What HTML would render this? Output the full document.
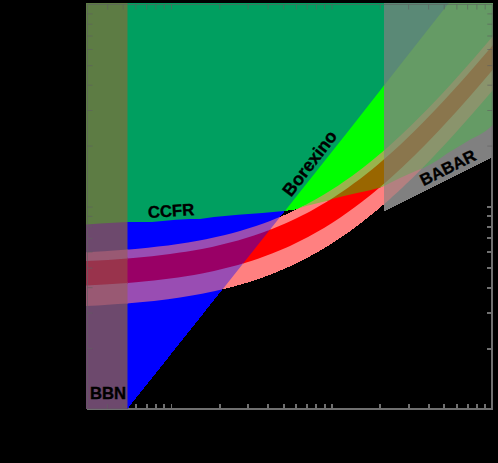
<!DOCTYPE html><html><head><meta charset="utf-8"><style>html,body{margin:0;padding:0;background:#000;overflow:hidden}svg{display:block}text{font-family:"Liberation Sans",sans-serif;font-weight:bold;fill:#000;stroke:#000;stroke-width:0.35px}</style></head><body>
<svg width="498" height="463" viewBox="0 0 498 463">
<rect width="498" height="463" fill="#000"/>
<g shape-rendering="crispEdges">
<path d="M384.0 3.0 L127.5 3.0 L127.5 222.0 L152.0 222.0 L176.0 219.8 L190.0 218.9 L200.0 219.0 L214.0 217.0 L238.2 214.8 L262.3 212.9 L284.0 211.0 L284.9 210.9 L349.2 130.0 L384.0 85.6Z" fill="rgb(0,159,96)"/>
<path d="M86.0 3.0 L86.0 224.4 L87.2 224.4 L100.0 223.6 L127.5 222.0 L127.5 3.0Z" fill="rgb(93,124,68)"/>
<path d="M388.0 146.9 L390.0 145.1 L392.0 143.3 L394.0 141.5 L396.0 139.7 L398.0 137.9 L400.0 136.0 L402.0 134.1 L404.0 132.2 L406.0 130.3 L408.0 128.4 L410.0 126.5 L412.0 124.6 L414.0 122.6 L416.0 120.6 L418.0 118.6 L420.0 116.6 L422.0 114.6 L424.0 112.6 L426.0 110.6 L428.0 108.5 L430.0 106.4 L432.0 104.4 L434.0 102.3 L436.0 100.2 L438.0 98.0 L440.0 95.9 L442.0 93.8 L444.0 91.6 L446.0 89.5 L448.0 87.3 L450.0 85.1 L452.0 82.9 L454.0 80.7 L456.0 78.5 L458.0 76.3 L460.0 74.1 L462.0 71.8 L464.0 69.6 L466.0 67.3 L468.0 65.1 L470.0 62.8 L472.0 60.5 L474.0 58.2 L476.0 55.9 L478.0 53.6 L480.0 51.3 L482.0 49.0 L484.0 46.7 L486.0 44.3 L488.0 42.0 L490.0 39.7 L492.0 37.3 L493.0 36.1 L493.0 3.0 L448.8 3.0 L384.0 85.6 L384.0 150.4 L386.0 148.6Z M488.0 95.8 L486.0 98.1 L484.0 100.5 L482.0 102.8 L480.0 105.1 L478.0 107.4 L476.0 109.7 L474.0 112.0 L472.0 114.3 L470.0 116.6 L468.0 118.9 L466.0 121.1 L464.0 123.4 L462.0 125.6 L460.0 127.9 L458.0 130.1 L456.0 132.3 L454.0 134.5 L452.0 136.7 L450.0 138.9 L448.0 141.1 L446.0 143.3 L444.0 145.4 L442.0 147.6 L440.0 149.7 L438.0 151.8 L436.0 154.0 L434.0 156.1 L432.0 158.2 L430.0 160.2 L428.0 162.3 L426.0 164.4 L424.0 166.4 L422.0 168.4 L421.6 168.8 L423.0 168.3 L431.1 164.0 L439.1 159.2 L447.1 153.6 L455.2 148.7 L463.2 143.9 L471.2 139.1 L479.3 135.1 L485.7 131.0 L492.4 125.4 L493.0 124.9 L493.0 89.9 L492.0 91.1 L490.0 93.5Z" fill="rgb(101,155,101)"/>
<path d="M128.0 249.6 L130.0 249.4 L132.0 249.2 L134.0 249.1 L136.0 248.9 L138.0 248.7 L140.0 248.5 L142.0 248.3 L144.0 248.1 L146.0 247.9 L148.0 247.7 L150.0 247.5 L152.0 247.3 L154.0 247.1 L156.0 246.9 L158.0 246.6 L160.0 246.4 L162.0 246.2 L164.0 245.9 L166.0 245.7 L168.0 245.4 L170.0 245.2 L172.0 244.9 L174.0 244.6 L176.0 244.3 L178.0 244.0 L180.0 243.7 L182.0 243.4 L184.0 243.1 L186.0 242.8 L188.0 242.5 L190.0 242.1 L192.0 241.8 L194.0 241.5 L196.0 241.1 L198.0 240.7 L200.0 240.4 L202.0 240.0 L204.0 239.6 L206.0 239.2 L208.0 238.8 L210.0 238.4 L212.0 238.0 L214.0 237.5 L216.0 237.1 L218.0 236.6 L220.0 236.2 L222.0 235.7 L224.0 235.2 L226.0 234.7 L228.0 234.2 L230.0 233.7 L232.0 233.2 L234.0 232.6 L236.0 232.1 L238.0 231.5 L240.0 231.0 L242.0 230.4 L244.0 229.8 L246.0 229.2 L248.0 228.6 L250.0 227.9 L252.0 227.3 L254.0 226.6 L256.0 226.0 L258.0 225.3 L260.0 224.6 L262.0 223.9 L264.0 223.2 L266.0 222.4 L268.0 221.7 L270.0 220.9 L272.0 220.2 L274.0 219.4 L276.0 218.6 L278.0 217.7 L280.0 216.9 L280.1 216.9 L284.9 210.9 L284.0 211.0 L262.3 212.9 L238.2 214.8 L214.0 217.0 L200.0 219.0 L190.0 218.9 L176.0 219.8 L152.0 222.0 L127.5 222.0 L127.5 249.6Z M216.0 290.9 L214.0 291.3 L212.0 291.8 L210.0 292.2 L208.0 292.6 L206.0 293.0 L204.0 293.4 L202.0 293.8 L200.0 294.2 L198.0 294.5 L196.0 294.9 L194.0 295.3 L192.0 295.6 L190.0 295.9 L188.0 296.3 L186.0 296.6 L184.0 296.9 L182.0 297.2 L180.0 297.5 L178.0 297.8 L176.0 298.1 L174.0 298.4 L172.0 298.7 L170.0 299.0 L168.0 299.2 L166.0 299.5 L164.0 299.7 L162.0 300.0 L160.0 300.2 L158.0 300.4 L156.0 300.7 L154.0 300.9 L152.0 301.1 L150.0 301.3 L148.0 301.5 L146.0 301.7 L144.0 301.9 L142.0 302.1 L140.0 302.3 L138.0 302.5 L136.0 302.7 L134.0 302.9 L132.0 303.0 L130.0 303.2 L128.0 303.4 L127.5 303.4 L127.5 409.4 L127.9 409.4 L127.9 408.3 L222.5 289.4 L222.0 289.5 L220.0 290.0 L218.0 290.4Z" fill="rgb(0,0,255)"/>
<path d="M92.0 251.9 L94.0 251.8 L96.0 251.7 L98.0 251.6 L100.0 251.5 L102.0 251.4 L104.0 251.2 L106.0 251.1 L108.0 251.0 L110.0 250.9 L112.0 250.7 L114.0 250.6 L116.0 250.5 L118.0 250.3 L120.0 250.2 L122.0 250.0 L124.0 249.9 L126.0 249.7 L127.5 249.6 L127.5 222.0 L100.0 223.6 L87.2 224.4 L86.0 224.4 L86.0 252.2 L88.0 252.1 L90.0 252.0Z M126.0 303.5 L124.0 303.7 L122.0 303.8 L120.0 304.0 L118.0 304.1 L116.0 304.3 L114.0 304.4 L112.0 304.5 L110.0 304.7 L108.0 304.8 L106.0 304.9 L104.0 305.0 L102.0 305.2 L100.0 305.3 L98.0 305.4 L96.0 305.5 L94.0 305.6 L92.0 305.7 L90.0 305.8 L88.0 305.9 L86.0 306.0 L86.0 409.4 L127.5 409.4 L127.5 303.4Z" fill="rgb(109,73,109)"/>
<path d="M304.0 205.7 L306.0 204.6 L308.0 203.6 L310.0 202.5 L312.0 201.4 L314.0 200.3 L316.0 199.2 L318.0 198.0 L320.0 196.9 L322.0 195.7 L324.0 194.5 L326.0 193.3 L328.0 192.1 L330.0 190.8 L332.0 189.6 L334.0 188.3 L336.0 187.0 L338.0 185.7 L340.0 184.3 L342.0 183.0 L344.0 181.6 L346.0 180.2 L348.0 178.8 L350.0 177.4 L352.0 175.9 L354.0 174.4 L356.0 173.0 L358.0 171.5 L360.0 170.0 L362.0 168.4 L364.0 166.9 L366.0 165.3 L368.0 163.7 L370.0 162.1 L372.0 160.5 L374.0 158.8 L376.0 157.2 L378.0 155.5 L380.0 153.8 L382.0 152.1 L384.0 150.4 L384.0 85.6 L349.2 130.0 L284.9 210.9 L294.7 209.5 L298.9 208.3 L300.0 207.7 L302.0 206.7Z" fill="rgb(0,255,0)"/>
<path d="M274.0 219.4 L272.0 220.2 L270.0 220.9 L268.0 221.7 L266.0 222.4 L264.0 223.2 L262.0 223.9 L260.0 224.6 L258.0 225.3 L256.0 226.0 L254.0 226.6 L252.0 227.3 L250.0 227.9 L248.0 228.6 L246.0 229.2 L244.0 229.8 L242.0 230.4 L240.0 231.0 L238.0 231.5 L236.0 232.1 L234.0 232.6 L232.0 233.2 L230.0 233.7 L228.0 234.2 L226.0 234.7 L224.0 235.2 L222.0 235.7 L220.0 236.2 L218.0 236.6 L216.0 237.1 L214.0 237.5 L212.0 238.0 L210.0 238.4 L208.0 238.8 L206.0 239.2 L204.0 239.6 L202.0 240.0 L200.0 240.4 L198.0 240.7 L196.0 241.1 L194.0 241.5 L192.0 241.8 L190.0 242.1 L188.0 242.5 L186.0 242.8 L184.0 243.1 L182.0 243.4 L180.0 243.7 L178.0 244.0 L176.0 244.3 L174.0 244.6 L172.0 244.9 L170.0 245.2 L168.0 245.4 L166.0 245.7 L164.0 245.9 L162.0 246.2 L160.0 246.4 L158.0 246.6 L156.0 246.9 L154.0 247.1 L152.0 247.3 L150.0 247.5 L148.0 247.7 L146.0 247.9 L144.0 248.1 L142.0 248.3 L140.0 248.5 L138.0 248.7 L136.0 248.9 L134.0 249.1 L132.0 249.2 L130.0 249.4 L128.0 249.6 L127.5 249.6 L127.5 258.5 L128.0 258.5 L130.0 258.3 L132.0 258.1 L134.0 258.0 L136.0 257.8 L138.0 257.6 L140.0 257.4 L142.0 257.2 L144.0 257.0 L146.0 256.8 L148.0 256.6 L150.0 256.4 L152.0 256.2 L154.0 256.0 L156.0 255.8 L158.0 255.5 L160.0 255.3 L162.0 255.1 L164.0 254.8 L166.0 254.6 L168.0 254.3 L170.0 254.1 L172.0 253.8 L174.0 253.5 L176.0 253.2 L178.0 252.9 L180.0 252.6 L182.0 252.3 L184.0 252.0 L186.0 251.7 L188.0 251.4 L190.0 251.0 L192.0 250.7 L194.0 250.4 L196.0 250.0 L198.0 249.6 L200.0 249.3 L202.0 248.9 L204.0 248.5 L206.0 248.1 L208.0 247.7 L210.0 247.3 L212.0 246.9 L214.0 246.4 L216.0 246.0 L218.0 245.5 L220.0 245.1 L222.0 244.6 L224.0 244.1 L226.0 243.6 L228.0 243.1 L230.0 242.6 L232.0 242.1 L234.0 241.5 L236.0 241.0 L238.0 240.4 L240.0 239.9 L242.0 239.3 L244.0 238.7 L246.0 238.1 L248.0 237.5 L250.0 236.8 L252.0 236.2 L254.0 235.5 L256.0 234.9 L258.0 234.2 L260.0 233.5 L262.0 232.8 L264.0 232.1 L266.0 231.3 L268.0 230.6 L269.7 229.9 L280.1 216.9 L280.0 216.9 L278.0 217.7 L276.0 218.6Z M128.0 303.4 L130.0 303.2 L132.0 303.0 L134.0 302.9 L136.0 302.7 L138.0 302.5 L140.0 302.3 L142.0 302.1 L144.0 301.9 L146.0 301.7 L148.0 301.5 L150.0 301.3 L152.0 301.1 L154.0 300.9 L156.0 300.7 L158.0 300.4 L160.0 300.2 L162.0 300.0 L164.0 299.7 L166.0 299.5 L168.0 299.2 L170.0 299.0 L172.0 298.7 L174.0 298.4 L176.0 298.1 L178.0 297.8 L180.0 297.5 L182.0 297.2 L184.0 296.9 L186.0 296.6 L188.0 296.3 L190.0 295.9 L192.0 295.6 L194.0 295.3 L196.0 294.9 L198.0 294.5 L200.0 294.2 L202.0 293.8 L204.0 293.4 L206.0 293.0 L208.0 292.6 L210.0 292.2 L212.0 291.8 L214.0 291.3 L216.0 290.9 L218.0 290.4 L220.0 290.0 L222.0 289.5 L222.5 289.4 L243.1 263.5 L242.0 263.8 L240.0 264.4 L238.0 264.9 L236.0 265.5 L234.0 266.0 L232.0 266.6 L230.0 267.1 L228.0 267.6 L226.0 268.1 L224.0 268.6 L222.0 269.1 L220.0 269.6 L218.0 270.0 L216.0 270.5 L214.0 270.9 L212.0 271.4 L210.0 271.8 L208.0 272.2 L206.0 272.6 L204.0 273.0 L202.0 273.4 L200.0 273.8 L198.0 274.1 L196.0 274.5 L194.0 274.9 L192.0 275.2 L190.0 275.5 L188.0 275.9 L186.0 276.2 L184.0 276.5 L182.0 276.8 L180.0 277.1 L178.0 277.4 L176.0 277.7 L174.0 278.0 L172.0 278.3 L170.0 278.6 L168.0 278.8 L166.0 279.1 L164.0 279.3 L162.0 279.6 L160.0 279.8 L158.0 280.0 L156.0 280.3 L154.0 280.5 L152.0 280.7 L150.0 280.9 L148.0 281.1 L146.0 281.3 L144.0 281.5 L142.0 281.7 L140.0 281.9 L138.0 282.1 L136.0 282.3 L134.0 282.5 L132.0 282.6 L130.0 282.8 L128.0 283.0 L127.5 283.0 L127.5 303.4Z" fill="rgb(153,77,179)"/>
<path d="M294.0 210.6 L292.0 211.6 L290.0 212.5 L288.0 213.4 L286.0 214.3 L284.0 215.2 L282.0 216.1 L280.1 216.9 L269.7 229.9 L270.0 229.8 L272.0 229.1 L274.0 228.3 L276.0 227.5 L278.0 226.6 L280.0 225.8 L282.0 225.0 L284.0 224.1 L286.0 223.2 L288.0 222.3 L290.0 221.4 L292.0 220.5 L294.0 219.5 L296.0 218.6 L298.0 217.6 L300.0 216.6 L302.0 215.6 L304.0 214.6 L306.0 213.5 L308.0 212.5 L310.0 211.4 L312.0 210.3 L314.0 209.2 L316.0 208.1 L318.0 206.9 L320.0 205.8 L322.0 204.6 L324.0 203.4 L326.0 202.2 L328.0 201.0 L329.7 199.9 L324.6 201.6 L308.0 205.6 L298.9 208.3 L298.0 208.7 L296.0 209.7Z M230.0 287.5 L232.0 287.0 L234.0 286.4 L236.0 285.9 L238.0 285.3 L240.0 284.8 L242.0 284.2 L244.0 283.6 L246.0 283.0 L248.0 282.4 L250.0 281.7 L252.0 281.1 L254.0 280.4 L256.0 279.8 L258.0 279.1 L260.0 278.4 L262.0 277.7 L264.0 277.0 L266.0 276.2 L268.0 275.5 L270.0 274.7 L272.0 274.0 L274.0 273.2 L276.0 272.4 L278.0 271.5 L280.0 270.7 L282.0 269.9 L284.0 269.0 L286.0 268.1 L288.0 267.2 L290.0 266.3 L292.0 265.4 L294.0 264.4 L296.0 263.5 L298.0 262.5 L300.0 261.5 L302.0 260.5 L304.0 259.5 L306.0 258.4 L308.0 257.4 L310.0 256.3 L312.0 255.2 L314.0 254.1 L316.0 253.0 L318.0 251.8 L320.0 250.7 L322.0 249.5 L324.0 248.3 L326.0 247.1 L328.0 245.9 L330.0 244.6 L332.0 243.4 L334.0 242.1 L336.0 240.8 L338.0 239.5 L340.0 238.1 L342.0 236.8 L344.0 235.4 L346.0 234.0 L348.0 232.6 L350.0 231.2 L352.0 229.7 L354.0 228.2 L356.0 226.8 L358.0 225.3 L360.0 223.8 L362.0 222.2 L364.0 220.7 L366.0 219.1 L368.0 217.5 L370.0 215.9 L372.0 214.3 L374.0 212.6 L376.0 211.0 L378.0 209.3 L380.0 207.6 L382.0 205.9 L384.0 204.2 L384.0 186.0 L379.6 187.5 L378.0 188.9 L376.0 190.6 L374.0 192.2 L372.0 193.9 L370.0 195.5 L368.0 197.1 L366.0 198.7 L364.0 200.3 L362.0 201.8 L360.0 203.4 L358.0 204.9 L356.0 206.4 L354.0 207.8 L352.0 209.3 L350.0 210.8 L348.0 212.2 L346.0 213.6 L344.0 215.0 L342.0 216.4 L340.0 217.7 L338.0 219.1 L336.0 220.4 L334.0 221.7 L332.0 223.0 L330.0 224.2 L328.0 225.5 L326.0 226.7 L324.0 227.9 L322.0 229.1 L320.0 230.3 L318.0 231.4 L316.0 232.6 L314.0 233.7 L312.0 234.8 L310.0 235.9 L308.0 237.0 L306.0 238.0 L304.0 239.1 L302.0 240.1 L300.0 241.1 L298.0 242.1 L296.0 243.1 L294.0 244.0 L292.0 245.0 L290.0 245.9 L288.0 246.8 L286.0 247.7 L284.0 248.6 L282.0 249.5 L280.0 250.3 L278.0 251.1 L276.0 252.0 L274.0 252.8 L272.0 253.6 L270.0 254.3 L268.0 255.1 L266.0 255.8 L264.0 256.6 L262.0 257.3 L260.0 258.0 L258.0 258.7 L256.0 259.4 L254.0 260.0 L252.0 260.7 L250.0 261.3 L248.0 262.0 L246.0 262.6 L244.0 263.2 L243.1 263.5 L222.5 289.4 L224.0 289.0 L226.0 288.5 L228.0 288.0Z" fill="rgb(255,128,128)"/>
<path d="M128.0 283.0 L130.0 282.8 L132.0 282.6 L134.0 282.5 L136.0 282.3 L138.0 282.1 L140.0 281.9 L142.0 281.7 L144.0 281.5 L146.0 281.3 L148.0 281.1 L150.0 280.9 L152.0 280.7 L154.0 280.5 L156.0 280.3 L158.0 280.0 L160.0 279.8 L162.0 279.6 L164.0 279.3 L166.0 279.1 L168.0 278.8 L170.0 278.6 L172.0 278.3 L174.0 278.0 L176.0 277.7 L178.0 277.4 L180.0 277.1 L182.0 276.8 L184.0 276.5 L186.0 276.2 L188.0 275.9 L190.0 275.5 L192.0 275.2 L194.0 274.9 L196.0 274.5 L198.0 274.1 L200.0 273.8 L202.0 273.4 L204.0 273.0 L206.0 272.6 L208.0 272.2 L210.0 271.8 L212.0 271.4 L214.0 270.9 L216.0 270.5 L218.0 270.0 L220.0 269.6 L222.0 269.1 L224.0 268.6 L226.0 268.1 L228.0 267.6 L230.0 267.1 L232.0 266.6 L234.0 266.0 L236.0 265.5 L238.0 264.9 L240.0 264.4 L242.0 263.8 L243.1 263.5 L269.7 229.9 L268.0 230.6 L266.0 231.3 L264.0 232.1 L262.0 232.8 L260.0 233.5 L258.0 234.2 L256.0 234.9 L254.0 235.5 L252.0 236.2 L250.0 236.8 L248.0 237.5 L246.0 238.1 L244.0 238.7 L242.0 239.3 L240.0 239.9 L238.0 240.4 L236.0 241.0 L234.0 241.5 L232.0 242.1 L230.0 242.6 L228.0 243.1 L226.0 243.6 L224.0 244.1 L222.0 244.6 L220.0 245.1 L218.0 245.5 L216.0 246.0 L214.0 246.4 L212.0 246.9 L210.0 247.3 L208.0 247.7 L206.0 248.1 L204.0 248.5 L202.0 248.9 L200.0 249.3 L198.0 249.6 L196.0 250.0 L194.0 250.4 L192.0 250.7 L190.0 251.0 L188.0 251.4 L186.0 251.7 L184.0 252.0 L182.0 252.3 L180.0 252.6 L178.0 252.9 L176.0 253.2 L174.0 253.5 L172.0 253.8 L170.0 254.1 L168.0 254.3 L166.0 254.6 L164.0 254.8 L162.0 255.1 L160.0 255.3 L158.0 255.5 L156.0 255.8 L154.0 256.0 L152.0 256.2 L150.0 256.4 L148.0 256.6 L146.0 256.8 L144.0 257.0 L142.0 257.2 L140.0 257.4 L138.0 257.6 L136.0 257.8 L134.0 258.0 L132.0 258.1 L130.0 258.3 L128.0 258.5 L127.5 258.5 L127.5 283.0Z" fill="rgb(153,0,102)"/>
<path d="M484.0 46.7 L482.0 49.0 L480.0 51.3 L478.0 53.6 L476.0 55.9 L474.0 58.2 L472.0 60.5 L470.0 62.8 L468.0 65.1 L466.0 67.3 L464.0 69.6 L462.0 71.8 L460.0 74.1 L458.0 76.3 L456.0 78.5 L454.0 80.7 L452.0 82.9 L450.0 85.1 L448.0 87.3 L446.0 89.5 L444.0 91.6 L442.0 93.8 L440.0 95.9 L438.0 98.0 L436.0 100.2 L434.0 102.3 L432.0 104.4 L430.0 106.4 L428.0 108.5 L426.0 110.6 L424.0 112.6 L422.0 114.6 L420.0 116.6 L418.0 118.6 L416.0 120.6 L414.0 122.6 L412.0 124.6 L410.0 126.5 L408.0 128.4 L406.0 130.3 L404.0 132.2 L402.0 134.1 L400.0 136.0 L398.0 137.9 L396.0 139.7 L394.0 141.5 L392.0 143.3 L390.0 145.1 L388.0 146.9 L386.0 148.6 L384.0 150.4 L384.0 159.3 L386.0 157.5 L388.0 155.8 L390.0 154.0 L392.0 152.2 L394.0 150.4 L396.0 148.6 L398.0 146.8 L400.0 144.9 L402.0 143.0 L404.0 141.1 L406.0 139.2 L408.0 137.3 L410.0 135.4 L412.0 133.5 L414.0 131.5 L416.0 129.5 L418.0 127.5 L420.0 125.5 L422.0 123.5 L424.0 121.5 L426.0 119.5 L428.0 117.4 L430.0 115.3 L432.0 113.3 L434.0 111.2 L436.0 109.1 L438.0 106.9 L440.0 104.8 L442.0 102.7 L444.0 100.5 L446.0 98.4 L448.0 96.2 L450.0 94.0 L452.0 91.8 L454.0 89.6 L456.0 87.4 L458.0 85.2 L460.0 83.0 L462.0 80.7 L464.0 78.5 L466.0 76.2 L468.0 74.0 L470.0 71.7 L472.0 69.4 L474.0 67.1 L476.0 64.8 L478.0 62.5 L480.0 60.2 L482.0 57.9 L484.0 55.6 L486.0 53.2 L488.0 50.9 L490.0 48.6 L492.0 46.2 L493.0 45.0 L493.0 36.1 L492.0 37.3 L490.0 39.7 L488.0 42.0 L486.0 44.3Z M426.0 164.4 L428.0 162.3 L430.0 160.2 L432.0 158.2 L434.0 156.1 L436.0 154.0 L438.0 151.8 L440.0 149.7 L442.0 147.6 L444.0 145.4 L446.0 143.3 L448.0 141.1 L450.0 138.9 L452.0 136.7 L454.0 134.5 L456.0 132.3 L458.0 130.1 L460.0 127.9 L462.0 125.6 L464.0 123.4 L466.0 121.1 L468.0 118.9 L470.0 116.6 L472.0 114.3 L474.0 112.0 L476.0 109.7 L478.0 107.4 L480.0 105.1 L482.0 102.8 L484.0 100.5 L486.0 98.1 L488.0 95.8 L490.0 93.5 L492.0 91.1 L493.0 89.9 L493.0 69.5 L492.0 70.7 L490.0 73.1 L488.0 75.4 L486.0 77.7 L484.0 80.1 L482.0 82.4 L480.0 84.7 L478.0 87.0 L476.0 89.3 L474.0 91.6 L472.0 93.9 L470.0 96.2 L468.0 98.5 L466.0 100.7 L464.0 103.0 L462.0 105.2 L460.0 107.5 L458.0 109.7 L456.0 111.9 L454.0 114.1 L452.0 116.3 L450.0 118.5 L448.0 120.7 L446.0 122.9 L444.0 125.0 L442.0 127.2 L440.0 129.3 L438.0 131.4 L436.0 133.6 L434.0 135.7 L432.0 137.8 L430.0 139.8 L428.0 141.9 L426.0 144.0 L424.0 146.0 L422.0 148.0 L420.0 150.0 L418.0 152.0 L416.0 154.0 L414.0 156.0 L412.0 158.0 L410.0 159.9 L408.0 161.8 L406.0 163.7 L404.0 165.6 L402.0 167.5 L400.0 169.4 L398.0 171.3 L396.0 173.1 L394.0 174.9 L392.0 176.7 L390.0 178.5 L388.0 180.3 L386.0 182.0 L384.0 183.8 L384.0 186.0 L400.0 178.1 L416.8 170.5 L421.6 168.8 L422.0 168.4 L424.0 166.4Z" fill="rgb(138,148,108)"/>
<path d="M384.0 3.0 L384.0 85.6 L448.8 3.0Z" fill="rgb(90,137,118)"/>
<path d="M388.0 180.3 L390.0 178.5 L392.0 176.7 L394.0 174.9 L396.0 173.1 L398.0 171.3 L400.0 169.4 L402.0 167.5 L404.0 165.6 L406.0 163.7 L408.0 161.8 L410.0 159.9 L412.0 158.0 L414.0 156.0 L416.0 154.0 L418.0 152.0 L420.0 150.0 L422.0 148.0 L424.0 146.0 L426.0 144.0 L428.0 141.9 L430.0 139.8 L432.0 137.8 L434.0 135.7 L436.0 133.6 L438.0 131.4 L440.0 129.3 L442.0 127.2 L444.0 125.0 L446.0 122.9 L448.0 120.7 L450.0 118.5 L452.0 116.3 L454.0 114.1 L456.0 111.9 L458.0 109.7 L460.0 107.5 L462.0 105.2 L464.0 103.0 L466.0 100.7 L468.0 98.5 L470.0 96.2 L472.0 93.9 L474.0 91.6 L476.0 89.3 L478.0 87.0 L480.0 84.7 L482.0 82.4 L484.0 80.1 L486.0 77.7 L488.0 75.4 L490.0 73.1 L492.0 70.7 L493.0 69.5 L493.0 45.0 L492.0 46.2 L490.0 48.6 L488.0 50.9 L486.0 53.2 L484.0 55.6 L482.0 57.9 L480.0 60.2 L478.0 62.5 L476.0 64.8 L474.0 67.1 L472.0 69.4 L470.0 71.7 L468.0 74.0 L466.0 76.2 L464.0 78.5 L462.0 80.7 L460.0 83.0 L458.0 85.2 L456.0 87.4 L454.0 89.6 L452.0 91.8 L450.0 94.0 L448.0 96.2 L446.0 98.4 L444.0 100.5 L442.0 102.7 L440.0 104.8 L438.0 106.9 L436.0 109.1 L434.0 111.2 L432.0 113.3 L430.0 115.3 L428.0 117.4 L426.0 119.5 L424.0 121.5 L422.0 123.5 L420.0 125.5 L418.0 127.5 L416.0 129.5 L414.0 131.5 L412.0 133.5 L410.0 135.4 L408.0 137.3 L406.0 139.2 L404.0 141.1 L402.0 143.0 L400.0 144.9 L398.0 146.8 L396.0 148.6 L394.0 150.4 L392.0 152.2 L390.0 154.0 L388.0 155.8 L386.0 157.5 L384.0 159.3 L384.0 183.8 L386.0 182.0Z" fill="rgb(138,118,77)"/>
<path d="M416.0 174.4 L414.0 176.4 L412.0 178.4 L410.0 180.3 L408.0 182.2 L406.0 184.1 L404.0 186.0 L402.0 187.9 L400.0 189.8 L398.0 191.7 L396.0 193.5 L394.0 195.3 L392.0 197.1 L390.0 198.9 L388.0 200.7 L386.0 202.4 L384.0 204.2 L384.0 211.5 L493.0 157.2 L493.0 124.9 L492.4 125.4 L485.7 131.0 L479.3 135.1 L471.2 139.1 L463.2 143.9 L455.2 148.7 L447.1 153.6 L439.1 159.2 L431.1 164.0 L423.0 168.3 L421.6 168.8 L420.0 170.4 L418.0 172.4Z" fill="rgb(128,128,128)"/>
<path d="M250.0 261.3 L252.0 260.7 L254.0 260.0 L256.0 259.4 L258.0 258.7 L260.0 258.0 L262.0 257.3 L264.0 256.6 L266.0 255.8 L268.0 255.1 L270.0 254.3 L272.0 253.6 L274.0 252.8 L276.0 252.0 L278.0 251.1 L280.0 250.3 L282.0 249.5 L284.0 248.6 L286.0 247.7 L288.0 246.8 L290.0 245.9 L292.0 245.0 L294.0 244.0 L296.0 243.1 L298.0 242.1 L300.0 241.1 L302.0 240.1 L304.0 239.1 L306.0 238.0 L308.0 237.0 L310.0 235.9 L312.0 234.8 L314.0 233.7 L316.0 232.6 L318.0 231.4 L320.0 230.3 L322.0 229.1 L324.0 227.9 L326.0 226.7 L328.0 225.5 L330.0 224.2 L332.0 223.0 L334.0 221.7 L336.0 220.4 L338.0 219.1 L340.0 217.7 L342.0 216.4 L344.0 215.0 L346.0 213.6 L348.0 212.2 L350.0 210.8 L352.0 209.3 L354.0 207.8 L356.0 206.4 L358.0 204.9 L360.0 203.4 L362.0 201.8 L364.0 200.3 L366.0 198.7 L368.0 197.1 L370.0 195.5 L372.0 193.9 L374.0 192.2 L376.0 190.6 L378.0 188.9 L379.6 187.5 L378.6 187.9 L368.9 190.5 L355.9 193.3 L343.0 196.2 L333.1 198.8 L329.7 199.9 L328.0 201.0 L326.0 202.2 L324.0 203.4 L322.0 204.6 L320.0 205.8 L318.0 206.9 L316.0 208.1 L314.0 209.2 L312.0 210.3 L310.0 211.4 L308.0 212.5 L306.0 213.5 L304.0 214.6 L302.0 215.6 L300.0 216.6 L298.0 217.6 L296.0 218.6 L294.0 219.5 L292.0 220.5 L290.0 221.4 L288.0 222.3 L286.0 223.2 L284.0 224.1 L282.0 225.0 L280.0 225.8 L278.0 226.6 L276.0 227.5 L274.0 228.3 L272.0 229.1 L270.0 229.8 L269.7 229.9 L243.1 263.5 L244.0 263.2 L246.0 262.6 L248.0 262.0Z" fill="rgb(255,0,0)"/>
<path d="M126.0 249.7 L124.0 249.9 L122.0 250.0 L120.0 250.2 L118.0 250.3 L116.0 250.5 L114.0 250.6 L112.0 250.7 L110.0 250.9 L108.0 251.0 L106.0 251.1 L104.0 251.2 L102.0 251.4 L100.0 251.5 L98.0 251.6 L96.0 251.7 L94.0 251.8 L92.0 251.9 L90.0 252.0 L88.0 252.1 L86.0 252.2 L86.0 261.1 L88.0 261.0 L90.0 260.9 L92.0 260.8 L94.0 260.7 L96.0 260.6 L98.0 260.5 L100.0 260.4 L102.0 260.3 L104.0 260.1 L106.0 260.0 L108.0 259.9 L110.0 259.8 L112.0 259.6 L114.0 259.5 L116.0 259.4 L118.0 259.2 L120.0 259.1 L122.0 258.9 L124.0 258.8 L126.0 258.6 L127.5 258.5 L127.5 249.6Z M94.0 305.6 L96.0 305.5 L98.0 305.4 L100.0 305.3 L102.0 305.2 L104.0 305.0 L106.0 304.9 L108.0 304.8 L110.0 304.7 L112.0 304.5 L114.0 304.4 L116.0 304.3 L118.0 304.1 L120.0 304.0 L122.0 303.8 L124.0 303.7 L126.0 303.5 L127.5 303.4 L127.5 283.0 L126.0 283.1 L124.0 283.3 L122.0 283.4 L120.0 283.6 L118.0 283.7 L116.0 283.9 L114.0 284.0 L112.0 284.1 L110.0 284.3 L108.0 284.4 L106.0 284.5 L104.0 284.6 L102.0 284.8 L100.0 284.9 L98.0 285.0 L96.0 285.1 L94.0 285.2 L92.0 285.3 L90.0 285.4 L88.0 285.5 L86.0 285.6 L86.0 306.0 L88.0 305.9 L90.0 305.8 L92.0 305.7Z" fill="rgb(153,89,115)"/>
<path d="M94.0 285.2 L96.0 285.1 L98.0 285.0 L100.0 284.9 L102.0 284.8 L104.0 284.6 L106.0 284.5 L108.0 284.4 L110.0 284.3 L112.0 284.1 L114.0 284.0 L116.0 283.9 L118.0 283.7 L120.0 283.6 L122.0 283.4 L124.0 283.3 L126.0 283.1 L127.5 283.0 L127.5 258.5 L126.0 258.6 L124.0 258.8 L122.0 258.9 L120.0 259.1 L118.0 259.2 L116.0 259.4 L114.0 259.5 L112.0 259.6 L110.0 259.8 L108.0 259.9 L106.0 260.0 L104.0 260.1 L102.0 260.3 L100.0 260.4 L98.0 260.5 L96.0 260.6 L94.0 260.7 L92.0 260.8 L90.0 260.9 L88.0 261.0 L86.0 261.1 L86.0 285.6 L88.0 285.5 L90.0 285.4 L92.0 285.3Z" fill="rgb(153,51,76)"/>
<path d="M384.0 183.8 L384.0 159.3 L382.0 161.0 L380.0 162.7 L378.0 164.4 L376.0 166.1 L374.0 167.7 L372.0 169.4 L370.0 171.0 L368.0 172.6 L366.0 174.2 L364.0 175.8 L362.0 177.3 L360.0 178.9 L358.0 180.4 L356.0 181.9 L354.0 183.3 L352.0 184.8 L350.0 186.3 L348.0 187.7 L346.0 189.1 L344.0 190.5 L342.0 191.9 L340.0 193.2 L338.0 194.6 L336.0 195.9 L334.0 197.2 L332.0 198.5 L330.0 199.7 L329.7 199.9 L333.1 198.8 L343.0 196.2 L355.9 193.3 L368.9 190.5 L378.6 187.9 L379.6 187.5 L380.0 187.2 L382.0 185.5Z" fill="rgb(153,102,0)"/>
<path d="M380.0 153.8 L378.0 155.5 L376.0 157.2 L374.0 158.8 L372.0 160.5 L370.0 162.1 L368.0 163.7 L366.0 165.3 L364.0 166.9 L362.0 168.4 L360.0 170.0 L358.0 171.5 L356.0 173.0 L354.0 174.4 L352.0 175.9 L350.0 177.4 L348.0 178.8 L346.0 180.2 L344.0 181.6 L342.0 183.0 L340.0 184.3 L338.0 185.7 L336.0 187.0 L334.0 188.3 L332.0 189.6 L330.0 190.8 L328.0 192.1 L326.0 193.3 L324.0 194.5 L322.0 195.7 L320.0 196.9 L318.0 198.0 L316.0 199.2 L314.0 200.3 L312.0 201.4 L310.0 202.5 L308.0 203.6 L306.0 204.6 L304.0 205.7 L302.0 206.7 L300.0 207.7 L298.9 208.3 L308.0 205.6 L324.6 201.6 L329.7 199.9 L330.0 199.7 L332.0 198.5 L334.0 197.2 L336.0 195.9 L338.0 194.6 L340.0 193.2 L342.0 191.9 L344.0 190.5 L346.0 189.1 L348.0 187.7 L350.0 186.3 L352.0 184.8 L354.0 183.3 L356.0 181.9 L358.0 180.4 L360.0 178.9 L362.0 177.3 L364.0 175.8 L366.0 174.2 L368.0 172.6 L370.0 171.0 L372.0 169.4 L374.0 167.7 L376.0 166.1 L378.0 164.4 L380.0 162.7 L382.0 161.0 L384.0 159.3 L384.0 150.4 L382.0 152.1Z M380.0 187.2 L379.6 187.5 L384.0 186.0 L384.0 183.8 L382.0 185.5Z" fill="rgb(153,179,77)"/>
<path d="M388.0 200.7 L390.0 198.9 L392.0 197.1 L394.0 195.3 L396.0 193.5 L398.0 191.7 L400.0 189.8 L402.0 187.9 L404.0 186.0 L406.0 184.1 L408.0 182.2 L410.0 180.3 L412.0 178.4 L414.0 176.4 L416.0 174.4 L418.0 172.4 L420.0 170.4 L421.6 168.8 L416.8 170.5 L400.0 178.1 L384.0 186.0 L384.0 204.2 L386.0 202.4Z" fill="rgb(179,128,128)"/>
</g>
<g>
<path d="M384.9 85.9 L384.9 3.0 L126.6 3.0 L126.6 222.9 L152.0 222.9 L176.1 220.7 L190.0 219.8 L200.1 219.9 L214.1 217.9 L238.3 215.7 L262.4 213.8 L284.1 211.9 L284.9 210.9 L286.2 210.7 L349.9 130.6Z" fill="rgb(0,159,96)"/>
<path d="M86.0 3.0 L86.0 225.3 L87.2 225.3 L100.1 224.5 L128.4 222.8 L128.4 222.0 L127.5 222.0 L127.5 3.0Z" fill="rgb(93,124,68)"/>
<path d="M493.0 88.5 L481.3 102.2 L471.3 113.7 L461.3 125.0 L453.3 133.9 L443.3 144.8 L435.3 153.3 L427.4 161.7 L419.8 169.3 L420.4 170.2 L423.4 169.1 L431.5 164.8 L439.6 160.0 L447.6 154.4 L471.6 139.9 L479.7 135.9 L486.2 131.7 L493.0 126.1Z M493.0 3.0 L447.7 3.0 L384.0 84.2 L384.0 85.6 L383.1 86.8 L383.1 152.0 L383.4 152.1 L388.6 147.6 L396.6 140.4 L404.6 132.9 L410.6 127.1 L418.6 119.3 L424.6 113.2 L432.6 105.0 L438.7 98.7 L446.7 90.1 L452.7 83.5 L460.7 74.7 L468.7 65.7 L476.7 56.5 L484.7 47.3 L493.0 37.5Z" fill="rgb(101,155,101)"/>
<path d="M284.9 210.9 L284.0 211.0 L262.3 212.9 L238.2 214.8 L214.0 217.0 L200.0 219.0 L190.0 218.9 L176.0 219.8 L152.0 222.0 L127.5 222.0 L126.6 222.1 L126.6 250.6 L140.1 249.4 L154.1 248.0 L162.1 247.1 L168.1 246.3 L180.1 244.6 L186.1 243.7 L192.2 242.7 L198.2 241.6 L204.2 240.5 L210.2 239.3 L216.2 238.0 L226.2 235.6 L234.2 233.5 L240.2 231.8 L248.3 229.4 L254.3 227.5 L262.3 224.7 L268.3 222.5 L274.3 220.2 L280.3 217.7 L280.7 217.6 L281.9 216.1 L280.1 216.9Z M284.9 210.9 L286.2 210.7 L286.6 210.2 L286.3 209.8 L285.7 209.9Z M207.8 291.7 L199.8 293.3 L189.9 295.1 L179.9 296.6 L169.9 298.1 L159.9 299.3 L149.9 300.4 L137.9 301.6 L126.6 302.6 L126.6 409.4 L127.9 409.4 L127.9 408.3 L222.5 289.4 L223.9 289.0 L224.2 288.7 L223.8 288.1 L215.8 290.0Z" fill="rgb(0,0,255)"/>
<path d="M100.0 223.6 L87.2 224.4 L86.0 224.4 L86.0 253.1 L98.0 252.5 L108.1 251.9 L118.1 251.2 L128.4 250.4 L128.4 249.5 L127.5 249.6 L127.5 222.0Z M119.9 303.1 L103.9 304.1 L86.0 305.1 L86.0 409.4 L127.5 409.4 L127.5 303.4 L128.4 303.3 L128.4 302.4Z" fill="rgb(109,73,109)"/>
<path d="M349.2 130.0 L284.9 210.9 L294.7 209.5 L298.9 208.3 L294.4 210.5 L294.9 210.4 L299.2 209.1 L306.4 205.4 L312.4 202.2 L318.4 198.8 L324.5 195.3 L328.5 192.8 L332.5 190.3 L336.5 187.7 L340.5 185.1 L346.5 180.9 L354.5 175.2 L362.5 169.1 L370.6 162.8 L378.6 156.2 L384.9 150.8 L384.9 149.6 L384.0 150.4 L384.0 85.6Z M384.0 85.6 L384.9 84.5 L384.9 84.0 L384.3 83.8 L384.0 84.2Z" fill="rgb(0,255,0)"/>
<path d="M270.0 220.9 L264.0 223.2 L256.0 226.0 L248.0 228.6 L240.0 231.0 L232.0 233.2 L224.0 235.2 L216.0 237.1 L206.0 239.2 L198.0 240.7 L188.0 242.5 L178.0 244.0 L168.0 245.4 L158.0 246.6 L148.0 247.7 L138.0 248.7 L126.6 249.7 L126.6 259.5 L134.1 258.9 L142.1 258.1 L150.1 257.3 L158.1 256.4 L166.1 255.5 L174.1 254.4 L182.1 253.2 L188.1 252.3 L196.2 250.9 L202.2 249.8 L208.2 248.6 L214.2 247.3 L220.2 245.9 L226.2 244.5 L232.2 242.9 L238.2 241.3 L246.3 238.9 L254.3 236.4 L262.3 233.6 L270.3 230.7 L281.9 216.1 L276.0 218.6Z M244.4 262.1 L235.8 264.6 L229.8 266.2 L223.8 267.7 L215.8 269.6 L209.8 270.9 L203.8 272.1 L197.8 273.3 L189.9 274.7 L183.9 275.6 L175.9 276.8 L167.9 277.9 L159.9 278.9 L151.9 279.8 L143.9 280.6 L135.9 281.4 L126.6 282.2 L126.6 303.5 L140.0 302.3 L154.0 300.9 L162.0 300.0 L168.0 299.2 L180.0 297.5 L186.0 296.6 L192.0 295.6 L202.0 293.8 L208.0 292.6 L214.0 291.3 L223.9 289.0 L244.8 262.8Z" fill="rgb(153,77,179)"/>
<path d="M379.2 186.7 L373.4 191.5 L369.4 194.8 L361.5 201.1 L353.5 207.1 L345.5 212.9 L337.5 218.3 L329.5 223.5 L325.5 225.9 L321.5 228.3 L317.6 230.7 L313.6 232.9 L305.6 237.2 L297.6 241.3 L289.6 245.1 L285.6 246.9 L279.7 249.5 L271.7 252.7 L267.7 254.3 L261.7 256.5 L257.7 257.8 L251.7 259.8 L247.7 261.1 L242.5 262.7 L241.6 263.9 L243.1 263.5 L222.5 289.4 L230.0 287.5 L238.0 285.3 L246.0 283.0 L254.0 280.4 L262.0 277.7 L268.0 275.5 L276.0 272.4 L282.0 269.9 L290.0 266.3 L296.0 263.5 L304.0 259.5 L310.0 256.3 L314.0 254.1 L318.0 251.8 L324.0 248.3 L330.0 244.6 L336.0 240.8 L342.0 236.8 L348.0 232.6 L354.0 228.2 L360.0 223.8 L366.0 219.1 L372.0 214.3 L378.0 209.3 L384.0 204.2 L384.0 205.4 L384.9 204.6 L384.9 184.7Z M290.0 212.5 L286.0 214.3 L280.1 216.9 L269.7 229.9 L268.1 230.6 L268.0 230.6 L268.5 231.4 L276.3 228.3 L284.4 224.9 L292.4 221.3 L300.4 217.4 L308.4 213.3 L312.4 211.1 L316.4 208.9 L320.5 206.6 L324.5 204.2 L331.6 199.8 L331.0 198.5 L324.4 200.7 L307.8 204.7 L303.3 206.0 L296.0 209.7Z" fill="rgb(255,128,128)"/>
<path d="M271.4 229.3 L262.0 232.8 L254.0 235.5 L246.0 238.1 L238.0 240.4 L230.0 242.6 L226.0 243.6 L220.0 245.1 L212.0 246.9 L202.0 248.9 L192.0 250.7 L186.0 251.7 L180.0 252.6 L170.0 254.1 L158.0 255.5 L152.0 256.2 L144.0 257.0 L136.0 257.8 L127.5 258.5 L127.5 257.6 L126.6 257.7 L126.6 284.0 L127.5 283.9 L127.5 283.0 L136.0 282.3 L146.0 281.3 L154.0 280.5 L162.0 279.6 L170.0 278.6 L178.0 277.4 L186.0 276.2 L194.0 274.9 L202.0 273.4 L208.0 272.2 L214.0 270.9 L220.0 269.6 L226.0 268.1 L232.0 266.6 L238.0 264.9 L244.6 263.0Z" fill="rgb(153,0,102)"/>
<path d="M480.0 51.3 L472.0 60.5 L466.0 67.3 L458.0 76.3 L452.0 82.9 L446.0 89.5 L440.0 95.9 L434.0 102.3 L428.0 108.5 L422.0 114.6 L416.0 120.6 L410.0 126.5 L406.0 130.3 L400.0 136.0 L394.0 141.5 L388.0 146.9 L383.1 151.2 L383.1 160.9 L383.4 161.0 L386.6 158.2 L392.6 152.9 L400.6 145.6 L404.6 141.8 L410.6 136.0 L416.6 130.2 L422.6 124.2 L432.6 113.9 L438.7 107.6 L444.7 101.1 L450.7 94.6 L456.7 88.0 L468.7 74.6 L480.7 60.8 L493.0 46.4 L493.0 36.1Z M493.0 68.1 L479.3 84.1 L471.3 93.3 L463.3 102.4 L457.3 109.1 L449.3 117.9 L443.3 124.4 L437.3 130.8 L431.4 137.1 L425.4 143.3 L419.4 149.4 L413.4 155.4 L407.4 161.2 L401.4 166.9 L395.4 172.4 L389.4 177.8 L383.1 183.4 L383.1 186.3 L384.0 186.0 L384.0 187.0 L400.4 178.9 L417.1 171.3 L422.1 169.6 L423.8 167.9 L423.0 168.3 L421.6 168.8 L430.0 160.2 L438.0 151.8 L446.0 143.3 L454.0 134.5 L462.0 125.6 L472.0 114.3 L482.0 102.8 L493.0 89.9Z" fill="rgb(138,148,108)"/>
<path d="M384.0 3.0 L384.0 85.6 L448.8 3.0Z" fill="rgb(90,137,118)"/>
<path d="M390.0 178.5 L396.0 173.1 L402.0 167.5 L408.0 161.8 L414.0 156.0 L420.0 150.0 L426.0 144.0 L432.0 137.8 L438.0 131.4 L444.0 125.0 L450.0 118.5 L456.0 111.9 L464.0 103.0 L470.0 96.2 L478.0 87.0 L493.0 69.5 L493.0 45.0 L484.0 55.6 L476.0 64.8 L468.0 74.0 L460.0 83.0 L452.0 91.8 L444.0 100.5 L436.0 109.1 L430.0 115.3 L422.0 123.5 L414.0 131.5 L406.0 139.2 L400.0 144.9 L392.0 152.2 L384.0 159.3 L384.0 158.1 L383.1 158.9 L383.1 185.4 L383.4 185.5 L384.0 185.0 L384.0 183.8Z" fill="rgb(138,118,77)"/>
<path d="M384.0 211.5 L493.0 157.2 L493.0 124.9 L485.7 131.0 L479.3 135.1 L471.2 139.1 L447.1 153.6 L439.1 159.2 L431.1 164.0 L423.0 168.3 L419.7 169.5 L411.4 177.7 L405.4 183.5 L401.4 187.3 L393.4 194.6 L389.4 198.2 L384.0 203.0Z" fill="rgb(128,128,128)"/>
<path d="M378.3 187.0 L368.7 189.6 L355.7 192.4 L342.8 195.3 L332.8 197.9 L329.3 199.1 L326.0 201.1 L329.7 199.9 L326.0 202.2 L322.0 204.6 L316.0 208.1 L310.0 211.4 L304.0 214.6 L296.0 218.6 L288.0 222.3 L284.0 224.1 L278.0 226.6 L269.7 229.9 L243.1 263.5 L252.0 260.7 L258.0 258.7 L262.0 257.3 L268.0 255.1 L272.0 253.6 L280.0 250.3 L286.0 247.7 L290.0 245.9 L298.0 242.1 L304.0 239.1 L308.0 237.0 L316.0 232.6 L320.0 230.3 L324.0 227.9 L328.0 225.5 L332.0 223.0 L340.0 217.7 L346.0 213.6 L354.0 207.8 L362.0 201.8 L370.0 195.5 L374.0 192.2 L379.6 187.5 L381.3 186.9 L380.9 186.1Z" fill="rgb(255,0,0)"/>
<path d="M127.5 282.1 L113.9 283.1 L103.9 283.7 L86.0 284.7 L86.0 306.0 L98.0 305.4 L108.0 304.8 L118.0 304.1 L127.5 303.4Z M127.5 249.6 L114.0 250.6 L104.0 251.2 L86.0 252.2 L86.0 262.0 L98.0 261.4 L108.1 260.8 L118.1 260.1 L127.5 259.4Z" fill="rgb(153,89,115)"/>
<path d="M86.0 285.6 L104.0 284.6 L112.0 284.1 L127.5 283.0 L127.5 258.5 L118.0 259.2 L108.0 259.9 L98.0 260.5 L86.0 261.1Z" fill="rgb(153,51,76)"/>
<path d="M379.4 162.0 L373.4 167.0 L367.4 171.9 L361.5 176.6 L355.5 181.1 L347.5 187.0 L341.5 191.1 L335.5 195.1 L327.7 200.1 L327.9 200.5 L333.1 198.8 L343.0 196.2 L355.9 193.3 L368.9 190.5 L378.6 187.9 L382.0 186.7 L384.0 185.0 L384.0 158.1Z" fill="rgb(153,102,0)"/>
<path d="M384.0 186.0 L384.0 187.0 L384.9 186.6 L384.9 185.6Z M384.0 186.0 L384.0 183.8 L379.6 187.5Z M378.0 155.5 L372.0 160.5 L368.0 163.7 L362.0 168.4 L358.0 171.5 L352.0 175.9 L348.0 178.8 L344.0 181.6 L338.0 185.7 L334.0 188.3 L328.0 192.1 L324.0 194.5 L318.0 198.0 L314.0 200.3 L308.0 203.6 L304.0 205.7 L298.9 208.3 L308.0 205.6 L324.6 201.6 L329.7 199.9 L334.0 197.2 L338.0 194.6 L344.0 190.5 L348.0 187.7 L354.0 183.3 L360.0 178.9 L366.0 174.2 L372.0 169.4 L378.0 164.4 L384.0 159.3 L384.0 150.4Z" fill="rgb(153,179,77)"/>
<path d="M388.0 200.7 L390.0 198.9 L392.0 197.1 L394.0 195.3 L396.0 193.5 L398.0 191.7 L400.0 189.8 L402.0 187.9 L404.0 186.0 L406.0 184.1 L408.0 182.2 L410.0 180.3 L412.0 178.4 L414.0 176.4 L416.0 174.4 L418.0 172.4 L420.0 170.4 L421.6 168.8 L416.8 170.5 L400.0 178.1 L384.0 186.0 L384.0 204.2 L386.0 202.4Z" fill="rgb(179,128,128)"/>
</g>
<path d="M87.5 4.5H492.3V409.0H87.5Z M107.6 409.0v-5.0 M107.6 4.5v5.0 M123.2 409.0v-5.0 M123.2 4.5v5.0 M135.9 409.0v-5.0 M135.9 4.5v5.0 M146.6 409.0v-5.0 M146.6 4.5v5.0 M155.9 409.0v-5.0 M155.9 4.5v5.0 M164.2 409.0v-5.0 M164.2 4.5v5.0 M171.5 409.0v-5.0 M171.5 4.5v5.0 M219.8 409.0v-5.0 M219.8 4.5v5.0 M248.1 409.0v-5.0 M248.1 4.5v5.0 M268.1 409.0v-5.0 M268.1 4.5v5.0 M283.7 409.0v-5.0 M283.7 4.5v5.0 M296.4 409.0v-5.0 M296.4 4.5v5.0 M307.1 409.0v-5.0 M307.1 4.5v5.0 M316.4 409.0v-5.0 M316.4 4.5v5.0 M324.7 409.0v-5.0 M324.7 4.5v5.0 M332.0 409.0v-5.0 M332.0 4.5v5.0 M380.3 409.0v-5.0 M380.3 4.5v5.0 M408.6 409.0v-5.0 M408.6 4.5v5.0 M428.6 409.0v-5.0 M428.6 4.5v5.0 M444.2 409.0v-5.0 M444.2 4.5v5.0 M456.9 409.0v-5.0 M456.9 4.5v5.0 M467.6 409.0v-5.0 M467.6 4.5v5.0 M476.9 409.0v-5.0 M476.9 4.5v5.0 M485.2 409.0v-5.0 M485.2 4.5v5.0 M87.5 348.6h5.0 M492.3 348.6h-5.0 M87.5 313.0h5.0 M492.3 313.0h-5.0 M87.5 287.7h5.0 M492.3 287.7h-5.0 M87.5 268.1h5.0 M492.3 268.1h-5.0 M87.5 252.0h5.0 M492.3 252.0h-5.0 M87.5 238.5h5.0 M492.3 238.5h-5.0 M87.5 226.7h5.0 M492.3 226.7h-5.0 M87.5 216.4h5.0 M492.3 216.4h-5.0 M87.5 207.1h5.0 M492.3 207.1h-5.0 M87.5 146.1h5.0 M492.3 146.1h-5.0 M87.5 110.5h5.0 M492.3 110.5h-5.0 M87.5 85.2h5.0 M492.3 85.2h-5.0 M87.5 65.6h5.0 M492.3 65.6h-5.0 M87.5 49.5h5.0 M492.3 49.5h-5.0 M87.5 36.0h5.0 M492.3 36.0h-5.0 M87.5 24.2h5.0 M492.3 24.2h-5.0 M87.5 13.9h5.0 M492.3 13.9h-5.0 " fill="none" stroke="#606060" stroke-width="1" stroke-opacity="0.62"/>
<path d="M0.0 0.0 L0.0 463.0 L498.0 463.0 L498.0 0.0Z M86.0 224.4 L86.0 3.0 L127.5 3.0 L384.0 3.0 L448.8 3.0 L493.0 3.0 L493.0 36.1 L493.0 45.0 L493.0 69.5 L493.0 89.9 L493.0 124.9 L493.0 157.2 L384.0 211.5 L384.0 204.2 L382.0 205.9 L380.0 207.6 L378.0 209.3 L376.0 211.0 L374.0 212.6 L372.0 214.3 L370.0 215.9 L368.0 217.5 L366.0 219.1 L364.0 220.7 L362.0 222.2 L360.0 223.8 L358.0 225.3 L356.0 226.8 L354.0 228.2 L352.0 229.7 L350.0 231.2 L348.0 232.6 L346.0 234.0 L344.0 235.4 L342.0 236.8 L340.0 238.1 L338.0 239.5 L336.0 240.8 L334.0 242.1 L332.0 243.4 L330.0 244.6 L328.0 245.9 L326.0 247.1 L324.0 248.3 L322.0 249.5 L320.0 250.7 L318.0 251.8 L316.0 253.0 L314.0 254.1 L312.0 255.2 L310.0 256.3 L308.0 257.4 L306.0 258.4 L304.0 259.5 L302.0 260.5 L300.0 261.5 L298.0 262.5 L296.0 263.5 L294.0 264.4 L292.0 265.4 L290.0 266.3 L288.0 267.2 L286.0 268.1 L284.0 269.0 L282.0 269.9 L280.0 270.7 L278.0 271.5 L276.0 272.4 L274.0 273.2 L272.0 274.0 L270.0 274.7 L268.0 275.5 L266.0 276.2 L264.0 277.0 L262.0 277.7 L260.0 278.4 L258.0 279.1 L256.0 279.8 L254.0 280.4 L252.0 281.1 L250.0 281.7 L248.0 282.4 L246.0 283.0 L244.0 283.6 L242.0 284.2 L240.0 284.8 L238.0 285.3 L236.0 285.9 L234.0 286.4 L232.0 287.0 L230.0 287.5 L228.0 288.0 L226.0 288.5 L224.0 289.0 L222.5 289.4 L127.9 408.3 L127.9 409.4 L127.5 409.4 L86.0 409.4 L86.0 306.0 L86.0 285.6 L86.0 261.1 L86.0 252.2Z M298.9 208.3 L294.7 209.5 L284.9 210.9 L280.1 216.9 L282.0 216.1 L284.0 215.2 L286.0 214.3 L288.0 213.4 L290.0 212.5 L292.0 211.6 L294.0 210.6 L296.0 209.7 L298.0 208.7Z" fill="#000" fill-rule="evenodd" shape-rendering="crispEdges"/>
<path d="M87.0 410.0 L88.0 410.0 L491.0 410.0 L493.0 410.0 L493.0 408.0 L493.0 350.0 L493.0 348.0 L493.0 314.0 L493.0 312.0 L493.0 289.0 L493.0 287.0 L493.0 269.0 L493.0 267.0 L493.0 253.0 L493.0 251.0 L493.0 239.0 L493.0 237.0 L493.0 228.0 L493.0 226.0 L493.0 217.0 L493.0 215.0 L493.0 208.0 L493.0 206.0 L493.0 157.2 L491.0 158.2 L491.0 206.0 L487.0 206.0 L487.0 208.0 L491.0 208.0 L491.0 215.0 L487.0 215.0 L487.0 217.0 L491.0 217.0 L491.0 226.0 L487.0 226.0 L487.0 228.0 L491.0 228.0 L491.0 237.0 L487.0 237.0 L487.0 239.0 L491.0 239.0 L491.0 251.0 L487.0 251.0 L487.0 253.0 L491.0 253.0 L491.0 267.0 L487.0 267.0 L487.0 269.0 L491.0 269.0 L491.0 287.0 L487.0 287.0 L487.0 289.0 L491.0 289.0 L491.0 312.0 L487.0 312.0 L487.0 314.0 L491.0 314.0 L491.0 348.0 L487.0 348.0 L487.0 350.0 L491.0 350.0 L491.0 408.0 L486.0 408.0 L486.0 404.0 L484.0 404.0 L484.0 408.0 L478.0 408.0 L478.0 404.0 L476.0 404.0 L476.0 408.0 L469.0 408.0 L469.0 404.0 L467.0 404.0 L467.0 408.0 L458.0 408.0 L458.0 404.0 L456.0 404.0 L456.0 408.0 L445.0 408.0 L445.0 404.0 L443.0 404.0 L443.0 408.0 L430.0 408.0 L430.0 404.0 L428.0 404.0 L428.0 408.0 L410.0 408.0 L410.0 404.0 L408.0 404.0 L408.0 408.0 L381.0 408.0 L381.0 404.0 L379.0 404.0 L379.0 408.0 L333.0 408.0 L333.0 404.0 L331.0 404.0 L331.0 408.0 L326.0 408.0 L326.0 404.0 L324.0 404.0 L324.0 408.0 L317.0 408.0 L317.0 404.0 L315.0 404.0 L315.0 408.0 L308.0 408.0 L308.0 404.0 L306.0 404.0 L306.0 408.0 L297.0 408.0 L297.0 404.0 L295.0 404.0 L295.0 408.0 L285.0 408.0 L285.0 404.0 L283.0 404.0 L283.0 408.0 L269.0 408.0 L269.0 404.0 L267.0 404.0 L267.0 408.0 L249.0 408.0 L249.0 404.0 L247.0 404.0 L247.0 408.0 L221.0 408.0 L221.0 404.0 L219.0 404.0 L219.0 408.0 L172.0 408.0 L172.0 404.0 L171.0 404.0 L171.0 408.0 L165.0 408.0 L165.0 404.0 L163.0 404.0 L163.0 408.0 L157.0 408.0 L157.0 404.0 L155.0 404.0 L155.0 408.0 L148.0 408.0 L148.0 404.0 L146.0 404.0 L146.0 408.0 L137.0 408.0 L137.0 404.0 L135.0 404.0 L135.0 408.0 L128.1 408.0 L127.9 408.3 L127.9 409.4 L127.5 409.4 L87.0 409.4Z" fill="#707070" fill-rule="evenodd" shape-rendering="crispEdges"/>
<text font-size="16.7" transform="translate(148.2,217.9) rotate(-3.4)">CCFR</text>
<text font-size="16.7" transform="translate(89.9,399)">BBN</text>
<text font-size="17.8" transform="translate(291.1,197.7) rotate(-52.6)">Borexino</text>
<text font-size="16.7" transform="translate(423.4,186.3) rotate(-26.5)">BABAR</text>
</svg></body></html>
